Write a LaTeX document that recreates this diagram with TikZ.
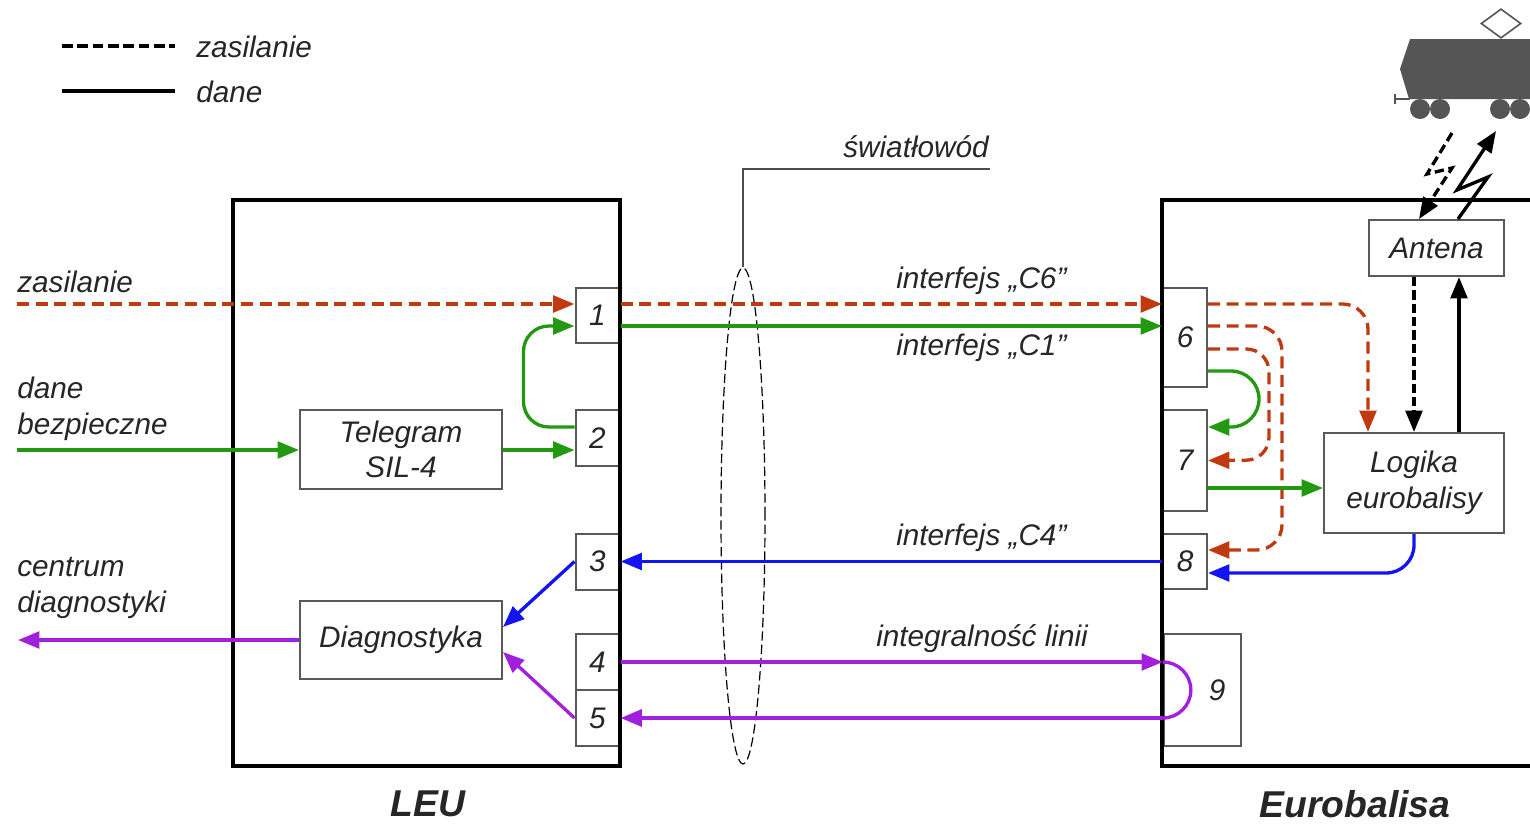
\documentclass[tikz,border=0pt]{standalone}
\usepackage{fontspec}
\setmainfont{Liberation Sans}
\usetikzlibrary{arrows.meta,calc,shapes.geometric}
\definecolor{linered}{HTML}{C03A10}
\definecolor{linegreen}{HTML}{229911}
\definecolor{lineblue}{HTML}{1414F0}
\definecolor{linepurple}{HTML}{A020DC}
\definecolor{traingray}{HTML}{555555}
\tikzset{
  lbl/.style={font=\fontsize{22.3}{26.6}\selectfont\itshape,inner sep=0.75pt,text=black!85},
  title/.style={font=\fontsize{28}{32}\selectfont\bfseries\itshape,inner sep=0.75pt,text=black!85},
  blockbox/.style={lbl,draw=black!65,line width=1.5pt,fill=white,align=center,minimum width=#1},
  port/.style={lbl,draw=black!65,line width=1.5pt,fill=white,minimum width=33pt},
  wire/.style={line width=2.5pt,-{Triangle[length=16pt,width=12.5pt]}},
  plainwire/.style={line width=2.5pt},
  dash red/.style={dash pattern=on 9pt off 5pt},
}
\begin{document}
\begin{tikzpicture}[x=0.75pt,y=0.75pt,yscale=-1,xscale=1]
        \clip (0,0) rectangle (1530,825);

        %Shape: Train
        \fill[traingray] (1410,39) -- (1530,39) -- (1530,99) -- (1409,99) -- (1400,69) -- cycle ;
        \fill[traingray] (1420,109) circle [radius=10] (1440,109) circle [radius=10] (1500,109) circle [radius=10] (1520,109) circle [radius=10] ;
        \draw[traingray,line width=1pt] (1395,94) -- (1395,104) (1395,99) -- (1410,99) ;
        \node[diamond,draw=traingray,line width=1.2pt,minimum width=30pt,minimum height=22pt,inner sep=0pt] (panto) at (1501,23.5) {};

        % Blocks
        \node[blockbox=151.5pt,minimum height=59pt] (telegram) at (401,449.5) {Telegram\\SIL-4};
        \node[blockbox=151.5pt,minimum height=58.5pt] (diag) at (401,640) {};
        \node[lbl] (diagtext) at (401,639.5) {Diagnostyka};
        \node[blockbox=101pt,minimum height=42pt] (antena) at (1436.5,248) {Antena};
        \node[blockbox=135pt,minimum height=75pt] (logika) at (1414,483) {};
        \node[lbl,align=center] (logikatext) at (1414,483) {Logika\\eurobalisy};

        % Ports
        \node[port,minimum height=41.5pt] (p1) at (597.5,315.5) {1};
        \node[port,minimum height=42pt] (p2) at (597.5,438) {2};
        \node[port,minimum height=42pt] (p3) at (597.5,561.5) {3};
        \node[port,minimum height=42pt] (p4) at (597.5,662) {4};
        \node[port,minimum height=42pt] (p5) at (597.5,718) {5};
        \node[port,minimum height=74pt] (p6) at (1185,337.5) {6};
        \node[port,minimum height=75.5pt] (p7) at (1185,460.5) {7};
        \node[port,minimum height=41.5pt] (p8) at (1185,561.5) {8};
        \node[port,minimum width=58pt,minimum height=84pt] (p9) at (1202.5,690) {};
        \node[lbl] (p9text) at (1217,690) {9};

        % Frames
        \draw[line width=3pt] (233,200) rectangle (620,766) ;
        \draw[line width=3pt] (1531,200) -- (1162,200) -- (1162,766) -- (1531,766) ;

        % Free ends
        \coordinate (zasin) at (17,304);
        \coordinate (danein) at (17,450);
        \coordinate (diagout) at (18,640);
        \coordinate (legdashA) at (62,46);
        \coordinate (legdashB) at (175,46);
        \coordinate (legsolidA) at (62,91);
        \coordinate (legsolidB) at (175,91);
        \coordinate (radioA) at (1452,133);
        \coordinate (radioB) at (1496,131);
        \coordinate (leaderA) at (743,169);
        \coordinate (leaderB) at (990,169);

        % Legend
        \draw[line width=2.4pt,dash pattern=on 8pt off 3.5pt] (legdashA) -- (legdashB) ;
        \draw[line width=2.4pt] (legsolidA) -- (legsolidB) ;
        \node[lbl,anchor=west] (legdash) at (195,47) {zasilanie};
        \node[lbl,anchor=west] (legsolid) at (195,92) {dane};

        % Fibre
        \node[ellipse,draw,line width=0.9pt,dash pattern=on 7pt off 3pt,minimum width=33pt,minimum height=372pt,inner sep=0pt] (fibre) at (743,516) {};
        \draw[black!70,line width=1pt] (fibre.north) -- (leaderA) -- (leaderB) ;
        \node[lbl] (fibretext) at (916,147) {światłowód};

        % Power
        \draw[wire,linered,dash red] (zasin) -- ($(p1.west)+(0,-11.5)$) ;
        \draw[wire,linered,dash red] ($(p1.east)+(0,-11.5)$) -- ($(p6.west)+(0,-33.5)$) ;
        \draw[wire,linered,dash red,rounded corners=19pt] ($(p6.east)+(0,-33.5)$) -| ($(logika.north west)+(45,0)$) ;
        \draw[wire,linered,dash red,rounded corners=19pt] ($(p6.east)+(0,-11.5)$) -- ++(74,0) -- ++(0,224) -- ($(p8.east)+(0,-11.5)$) ;
        \draw[wire,linered,dash red,rounded corners=17pt] ($(p6.east)+(0,11.5)$) -- ++(61,0) -- ++(0,111) -- (p7.east) ;

        % Data
        \draw[wire,linegreen] (danein) -- (telegram.west |- danein) ;
        \draw[wire,linegreen] (telegram.east |- danein) -- (p2.west |- danein) ;
        \draw[wire,linegreen,rounded corners=19pt] ($(p2.west)+(0,-11)$) -- ++(-51,0) -- ++(0,-101) -- ($(p1.west)+(0,10.5)$) ;
        \draw[wire,linegreen] ($(p1.east)+(0,10.5)$) -- ($(p6.west)+(0,-11.5)$) ;
        \draw[wire,linegreen] ($(p6.east)+(0,33.5)$) -- ++(23,0) arc[start angle=-90,end angle=90,radius=28] -- ($(p7.east)+(0,-33.5)$) ;
        \draw[wire,linegreen] ($(p7.east)+(0,27.5)$) -- (logika.west |- 1300,488) ;

        % Return
        \draw[wire,lineblue,rounded corners=21pt] (logika.south) |- ($(p8.east)+(0,11.5)$) ;
        \draw[wire,lineblue] (p8.west) -- (p3.east) ;
        \draw[wire,lineblue] (p3.west) -- ($(diag.east)+(0,-13)$) ;
        \draw[wire,linepurple] (p4.east) -- ($(p9.west)+(0,-28)$) ;
        \draw[plainwire,linepurple] ($(p9.west)+(0,-28)$) -- ++(0,0) arc[start angle=-90,end angle=90,radius=28] ;
        \draw[wire,linepurple,line width=3pt] ($(p9.west)+(0,28)$) -- (p5.east) ;
        \draw[wire,linepurple] (p5.west) -- ($(diag.east)+(0,12)$) ;
        \draw[wire,linepurple] (diag.west) -- (diagout) ;

        % Antenna
        \draw[wire,dash pattern=on 7pt off 3pt] (antena.south -| logika.north) -- (logika.north) ;
        \draw[wire] ($(logika.north)+(45,0)$) -- ($(antena.south)+(22.5,0)$) ;
        \draw[wire,dash pattern=on 7pt off 3.5pt] (radioA) -- (1427,174) -- (1452,168) -- ($(antena.north)+(-17.5,0)$) ;
        \draw[wire] ($(antena.north)+(21.5,0)$) -- (1488,177) -- (1457,190) -- (radioB) ;

        % Text Node
        \node[lbl,anchor=west] (zastext) at (16,282) {zasilanie};
        \node[lbl,anchor=west,align=left] (danetext) at (16,409) {dane\\bezpieczne};
        \node[lbl,anchor=west,align=left] (centrumtext) at (16,588) {centrum\\diagnostyki};
        \node[lbl,anchor=west] (c6text) at (895,281) {interfejs „C6”};
        \node[lbl,anchor=west] (c1text) at (895,348) {interfejs „C1”};
        \node[lbl,anchor=west] (c4text) at (895,538) {interfejs „C4”};
        \node[lbl,anchor=west] (linetext) at (875,639) {integralność linii};
        \node[title] (leu) at (428,804) {LEU};
        \node[title] (euro) at (1355,804) {Eurobalisa};

    \end{tikzpicture}
\end{document}
